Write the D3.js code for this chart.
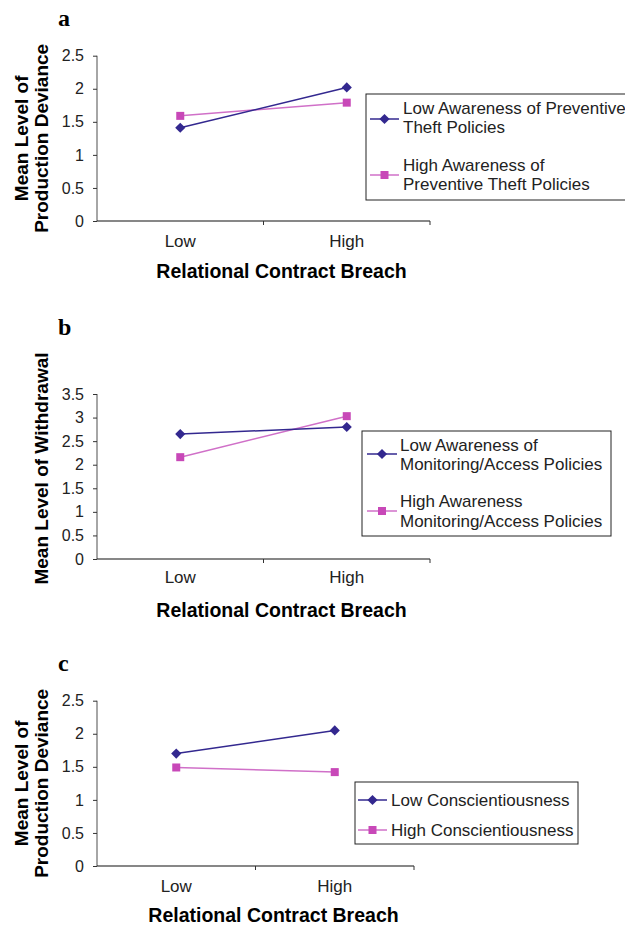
<!DOCTYPE html>
<html>
<head>
<meta charset="utf-8">
<script src="https://cdn.jsdelivr.net/npm/d3@7"></script>
<style>
  body { margin: 0; background: #fff; }
  svg text { font-family: "Liberation Sans", Arial, sans-serif; }
</style>
</head>
<body>
<svg id="chart" width="625" height="925"></svg>
<script>
// categories on the x axis
let categories = ["Low", "High"];

// panel a
let aLow = [1.41, 2.02];
let aHigh = [1.59, 1.79];
let aTicks = [0, 0.5, 1, 1.5, 2, 2.5];
let aLegend = [["Low Awareness of Preventive", "Theft Policies"], ["High Awareness of", "Preventive Theft Policies"]];
let aYTitle = ["Mean Level of", "Production Deviance"];

// panel b
let bLow = [2.65, 2.80];
let bHigh = [2.16, 3.03];
let bTicks = [0, 0.5, 1, 1.5, 2, 2.5, 3, 3.5];
let bLegend = [["Low Awareness of", "Monitoring/Access Policies"], ["High Awareness", "Monitoring/Access Policies"]];
let bYTitle = ["Mean Level of Withdrawal"];

// panel c
let cLow = [1.70, 2.05];
let cHigh = [1.49, 1.42];
let cTicks = [0, 0.5, 1, 1.5, 2, 2.5];
let cLegend = [["Low Conscientiousness"], ["High Conscientiousness"]];
let cYTitle = ["Mean Level of", "Production Deviance"];

let blue = "#33288f";
let pink = "#c848b8";
let pinkLine = "#d070c8";

let svg = d3.select("#chart");

let panels = [
  { label: "a", low: aLow, high: aHigh, ticks: aTicks, max: 2.5, legend: aLegend, ytitle: aYTitle,
    top: 55.7, bottom: 221, left: 97, right: 430, labelY: 26, titleX: [28, 48], catY: 247, xTitleY: 278,
    box: { x: 366, y: 94, w: 270, h: 106, lx1: 370, lx2: 399, tx: 403, rows: [[119, [114, 133]], [175, [171, 190]]] } },
  { label: "b", low: bLow, high: bHigh, ticks: bTicks, max: 3.5, legend: bLegend, ytitle: bYTitle,
    top: 394, bottom: 559, left: 97, right: 430, labelY: 335, titleX: [48], catY: 583, xTitleY: 617,
    box: { x: 362, y: 431, w: 249, h: 105, lx1: 367, lx2: 397, tx: 400, rows: [[454, [451, 470]], [511, [507, 527]]] } },
  { label: "c", low: cLow, high: cHigh, ticks: cTicks, max: 2.5, legend: cLegend, ytitle: cYTitle,
    top: 700.7, bottom: 866, left: 97, right: 414, labelY: 671, titleX: [28, 48], catY: 892, xTitleY: 922,
    box: { x: 355, y: 782, w: 223, h: 62, lx1: 358, lx2: 387, tx: 391, rows: [[800, [806]], [830, [836]]] } }
];

// diamond = square turned 45 degrees
function diamond(g, x, y, color) {
  g.append("rect")
    .attr("x", -3.6).attr("y", -3.6)
    .attr("width", 7.2).attr("height", 7.2)
    .attr("transform", "translate(" + x + "," + y + ") rotate(45)")
    .attr("fill", color);
}

function square(g, x, y, color) {
  g.append("rect")
    .attr("x", x - 4).attr("y", y - 4)
    .attr("width", 8).attr("height", 8)
    .attr("fill", color);
}

panels.forEach(function(p) {
  let g = svg.append("g");

  let x = d3.scaleBand().domain(categories).range([p.left, p.right]);
  let y = d3.scaleLinear().domain([0, p.max]).range([p.bottom, p.top]);

  // panel letter
  g.append("text")
    .attr("x", 58).attr("y", p.labelY)
    .style("font-family", "'Liberation Serif', 'Times New Roman', serif")
    .style("font-weight", "bold").style("font-size", "24px")
    .text(p.label);

  // y axis
  let yAxis = g.append("g")
    .attr("transform", "translate(" + p.left + ",0)")
    .call(d3.axisLeft(y).tickValues(p.ticks).tickSize(4).tickPadding(9).tickFormat(d3.format("")));
  yAxis.select(".domain").attr("stroke", "#888").attr("stroke-width", 1.5).attr("d", "M0," + p.bottom + "V" + p.top);
  yAxis.selectAll(".tick line").attr("stroke", "#333");
  yAxis.selectAll("text").style("font-size", "16px").attr("fill", "#222");

  // x axis
  let xAxis = g.append("g")
    .attr("transform", "translate(0," + p.bottom + ")")
    .call(d3.axisBottom(x).tickSize(0).tickFormat(""));
  xAxis.select(".domain").attr("stroke", "#111").attr("stroke-width", 1.2)
    .attr("d", "M" + p.left + ",0H" + p.right);
  // tick marks at band edges
  let edges = [x.range()[0] + x.bandwidth(), x.range()[1]];
  g.selectAll(null).data(edges).enter().append("line")
    .attr("x1", d => d).attr("x2", d => d)
    .attr("y1", p.bottom).attr("y2", p.bottom + 4)
    .attr("stroke", "#333");

  categories.forEach(function(c) {
    g.append("text")
      .attr("x", x(c) + x.bandwidth() / 2).attr("y", p.catY)
      .attr("text-anchor", "middle").style("font-size", "17px").attr("fill", "#222")
      .text(c);
  });

  g.append("text")
    .attr("x", (p.left + p.right) / 2 + 18).attr("y", p.xTitleY)
    .attr("text-anchor", "middle").style("font-size", "19.5px").style("font-weight", "bold")
    .text("Relational Contract Breach");

  // y title
  let midY = (p.top + p.bottom) / 2 - (p.label === "b" ? 8 : 0);
  p.ytitle.forEach(function(t, i) {
    g.append("text")
      .attr("transform", "translate(" + p.titleX[i] + "," + midY + ") rotate(-90)")
      .attr("text-anchor", "middle").style("font-size", "19px").style("font-weight", "bold")
      .text(t);
  });

  // lines
  let line = d3.line().x((d, i) => x(categories[i]) + x.bandwidth() / 2).y(d => y(d));
  g.append("path").datum(p.high).attr("d", line).attr("fill", "none").attr("stroke", pinkLine).attr("stroke-width", 1.5);
  g.append("path").datum(p.low).attr("d", line).attr("fill", "none").attr("stroke", blue).attr("stroke-width", 1.5);
  p.high.forEach((v, i) => square(g, x(categories[i]) + x.bandwidth() / 2, y(v), pink));
  p.low.forEach((v, i) => diamond(g, x(categories[i]) + x.bandwidth() / 2, y(v), blue));

  // legend
  let b = p.box;
  g.append("rect")
    .attr("x", b.x).attr("y", b.y).attr("width", b.w).attr("height", b.h)
    .attr("fill", "none").attr("stroke", "#222").attr("stroke-width", 1);
  p.legend.forEach(function(lines, i) {
    let row = b.rows[i];
    let col = i === 0 ? blue : pinkLine;
    g.append("line").attr("x1", b.lx1).attr("x2", b.lx2).attr("y1", row[0]).attr("y2", row[0])
      .attr("stroke", col).attr("stroke-width", 1.5);
    if (i === 0) diamond(g, (b.lx1 + b.lx2) / 2, row[0], blue);
    else square(g, (b.lx1 + b.lx2) / 2, row[0], pink);
    lines.forEach(function(t, j) {
      g.append("text").attr("x", b.tx).attr("y", row[1][j])
        .style("font-size", "17px").attr("fill", "#222").text(t);
    });
  });
});
</script>
</body>
</html>
